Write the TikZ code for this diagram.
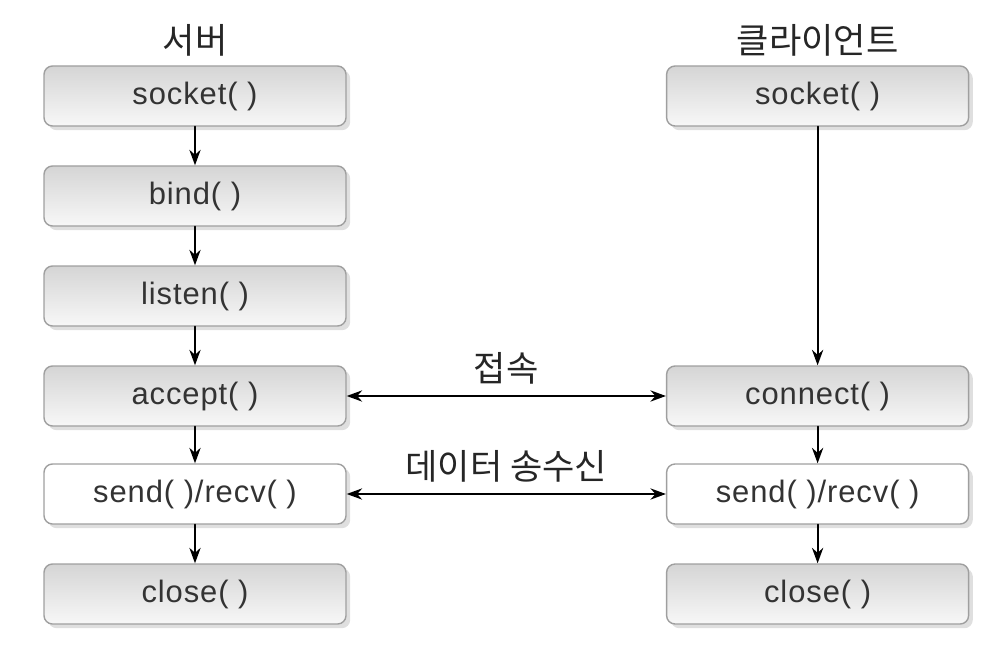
\documentclass[tikz,border=0pt]{standalone}
\usepackage{fontspec}
\setmainfont[LetterSpace=3]{Liberation Sans}
\newfontfamily\krfont{Noto Sans CJK KR}
\usetikzlibrary{arrows.meta,shadows}

\begin{document}
\begin{tikzpicture}[line cap=round,line join=round,>={Stealth[length=11pt,width=8pt]},
  call/.style={draw=gray!75,line width=1pt,rounded corners=6pt,minimum width=7.55cm,minimum height=1.5cm,
    top color=gray!33,bottom color=gray!6,text=black!80,font=\fontsize{22}{26}\selectfont,
    drop shadow={opacity=0.25,shadow xshift=3pt,shadow yshift=-3pt}},
  datacall/.style={call,top color=white,bottom color=white},
  title/.style={text=black!85,font=\krfont\fontsize{25}{30}\selectfont},
  flow/.style={->,line width=1.4pt}]
  \useasboundingbox (0,0) rectangle (25.15,-16.575);
  \def\xs{4.875}
  \def\xc{20.44}
  % server side
  \node[title] (srv) at (\xs,-1.0) {서버};
  \node[call] (ssocket) at (\xs,-2.4) {socket( )};
  \node[call] (sbind) at (\xs,-4.9) {bind( )};
  \node[call] (slisten) at (\xs,-7.4) {listen( )};
  \node[call] (saccept) at (\xs,-9.9) {accept( )};
  \node[datacall] (ssend) at (\xs,-12.35) {send( )/recv( )};
  \node[call] (sclose) at (\xs,-14.85) {close( )};
  % client side
  \node[title] (cli) at (\xc,-1.0) {클라이언트};
  \node[call] (csocket) at (\xc,-2.4) {socket( )};
  \node[call] (cconnect) at (\xc,-9.9) {connect( )};
  \node[datacall] (csend) at (\xc,-12.35) {send( )/recv( )};
  \node[call] (cclose) at (\xc,-14.85) {close( )};
  % arrows
  \draw[flow] (ssocket) -- (sbind);
  \draw[flow] (sbind) -- (slisten);
  \draw[flow] (slisten) -- (saccept);
  \draw[flow] (saccept) -- (ssend);
  \draw[flow] (ssend) -- (sclose);
  \draw[flow] (csocket) -- (cconnect);
  \draw[flow] (cconnect) -- (csend);
  \draw[flow] (csend) -- (cclose);
  \draw[flow,<->] (saccept) -- node[above=4pt,title] (conn) {접속} (cconnect);
  \draw[flow,<->] (ssend) -- node[above=4pt,title] (xfer) {데이터 송수신} (csend);
\end{tikzpicture}
\end{document}
